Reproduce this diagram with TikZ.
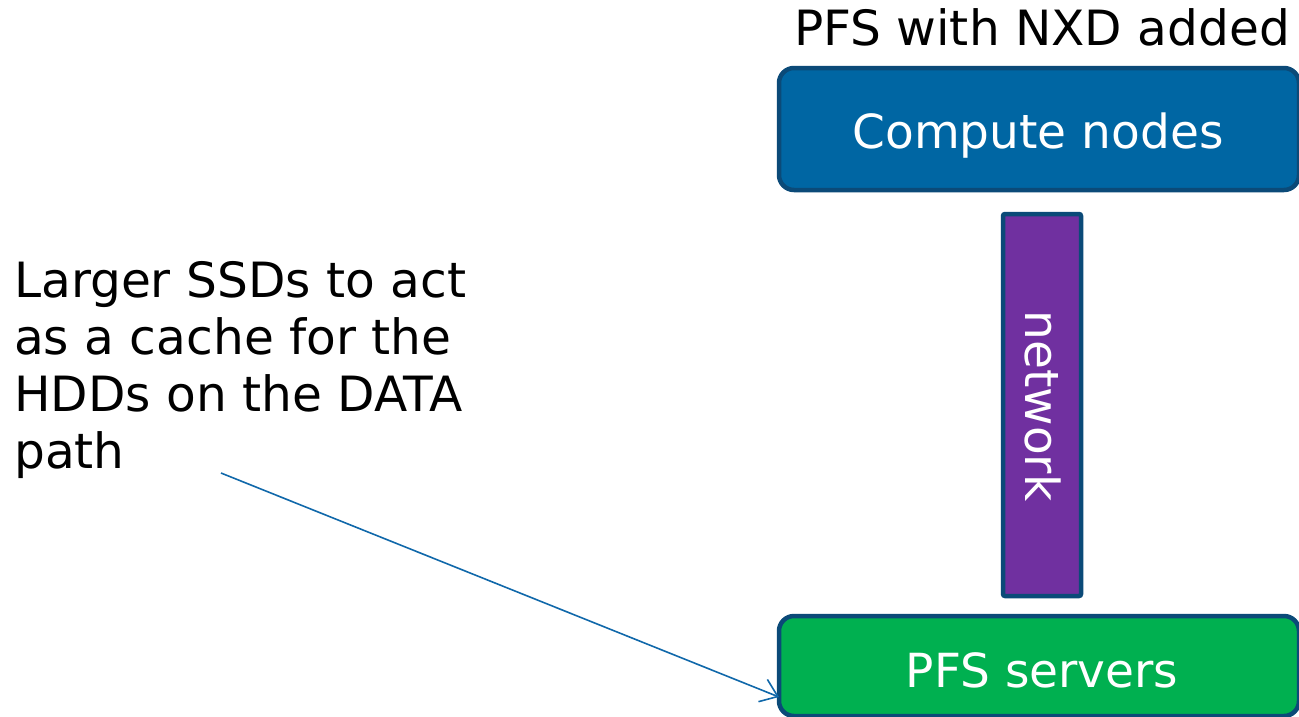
\documentclass[tikz,border=0pt]{standalone}
\usepackage{fontspec}
\setmainfont{DejaVu Sans}
\usetikzlibrary{arrows.meta}
\definecolor{boxblue}{HTML}{0066A3}
\definecolor{edgeblue}{HTML}{0B4A78}
\definecolor{netpurple}{HTML}{7030A0}
\definecolor{srvgreen}{HTML}{00B050}
\definecolor{linkblue}{HTML}{1068AA}
\tikzset{
  panel/.style={draw=edgeblue, line width=4.5pt, rounded corners=15pt, inner sep=0pt},
  bigtext/.style={font=\fontsize{47}{57}\selectfont},
  notetext/.style={font=\fontsize{48.6}{57}\selectfont},
  pointer/.style={draw=linkblue, line width=1.6pt, -{Straight Barb[length=16pt,width=24pt,line width=1.6pt]}}
}
\begin{document}
\begin{tikzpicture}[x=1pt,y=-1pt]
  \useasboundingbox (0,0) rectangle (1299,716);
  \begin{scope}
    \clip (0,0) rectangle (1299,716);
    % compute block
    \node[panel, fill=boxblue, minimum width=520pt, minimum height=122pt] (compute) at (1039,129) {};
    \node[bigtext, text=white, anchor=base] (computelbl) at (1038,148) {Compute nodes};
    % interconnect bar
    \node[draw=edgeblue, line width=4.5pt, rounded corners=2pt, fill=netpurple, minimum width=78pt, minimum height=382pt, inner sep=0pt] (net) at (1042,405) {};
    \node[bigtext, text=white, rotate=-90] (netlbl) at (1043,406) {network};
    % storage servers
    \node[panel, fill=srvgreen, minimum width=520pt, minimum height=100pt] (pfs) at (1039,666) {};
    \node[bigtext, text=white, anchor=base] (pfslbl) at (1042,687) {PFS servers};
  \end{scope}
  % heading
  \node[notetext, anchor=base] (title) at (1042,45) {PFS with NXD added};
  % note on the left (anchored at the baseline of its last line)
  \node[notetext, anchor=base west, align=left, inner sep=0pt] (note) at (14,468)
    {Larger SSDs to act\\as a cache for the\\HDDs on the DATA\\path};
  \coordinate (src) at (221,473);
  \coordinate (tip) at (779,697);
  \draw[pointer] (src) -- (tip);
\end{tikzpicture}
\end{document}
